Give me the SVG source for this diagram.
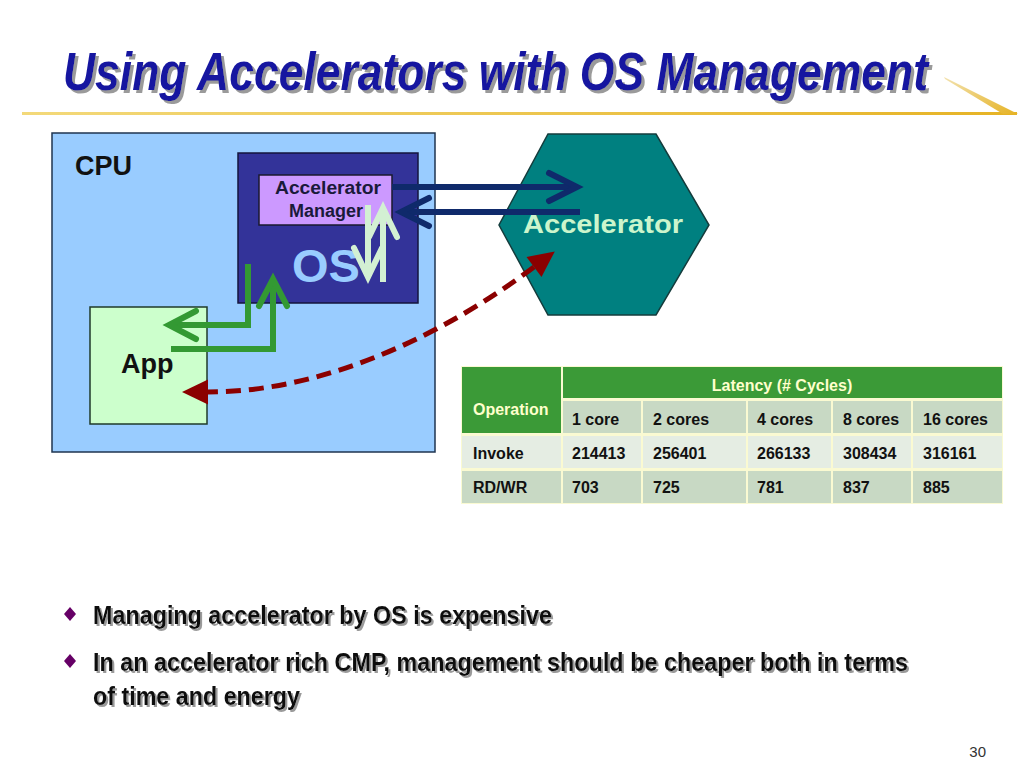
<svg xmlns="http://www.w3.org/2000/svg" width="1024" height="768" viewBox="0 0 1024 768">
<defs>
<style>
.sans{font-family:"Liberation Sans",Arial,sans-serif;}
.b{font-weight:bold;}
.cell{font-family:"Liberation Sans",Arial,sans-serif;font-weight:bold;font-size:16px;fill:#111;}
.hdr{font-family:"Liberation Sans",Arial,sans-serif;font-weight:bold;font-size:16px;fill:#ffffcc;}
.bul{font-family:"Liberation Sans",Arial,sans-serif;font-weight:bold;font-size:26px;fill:#111;filter:url(#shadow2);}
.navy{fill:none;stroke:#0f2a6b;stroke-width:6;}
.grn{fill:none;stroke:#339933;stroke-width:6;}
.pale{fill:none;stroke:#d3f0d3;stroke-width:6;}
</style>
<filter id="shadow3" filterUnits="userSpaceOnUse" x="-20" y="-60" width="1000" height="90">
<feOffset in="SourceAlpha" dx="3" dy="2.5" result="off"/>
<feFlood flood-color="#9a9a9a"/>
<feComposite in2="off" operator="in"/>
<feMerge><feMergeNode/><feMergeNode in="SourceGraphic"/></feMerge>
</filter>
<filter id="shadow2" filterUnits="userSpaceOnUse" x="0" y="580" width="1024" height="150">
<feOffset in="SourceAlpha" dx="2" dy="2" result="off"/>
<feFlood flood-color="#9a9a9a"/>
<feComposite in2="off" operator="in"/>
<feMerge><feMergeNode/><feMergeNode in="SourceGraphic"/></feMerge>
</filter>
<linearGradient id="gold" x1="0" y1="0" x2="1" y2="0">
<stop offset="0" stop-color="#f3d97a"/>
<stop offset="1" stop-color="#e6b325"/>
</linearGradient>
<linearGradient id="gold2" x1="0" y1="0" x2="1" y2="1">
<stop offset="0" stop-color="#f2e2b0"/>
<stop offset="1" stop-color="#e6b325"/>
</linearGradient>
<marker id="navyHead" markerUnits="userSpaceOnUse" markerWidth="40" markerHeight="40" refX="0" refY="0" viewBox="-35 -20 40 40" orient="auto" overflow="visible">
<path d="M -28 -14 L 0 0 L -28 14" fill="none" stroke="#0f2a6b" stroke-width="6" stroke-linecap="round"/>
</marker>
<marker id="grnHead" markerUnits="userSpaceOnUse" markerWidth="40" markerHeight="40" refX="0" refY="0" viewBox="-35 -20 40 40" orient="auto" overflow="visible">
<path d="M -27 -14 L 0 0 L -27 14" fill="none" stroke="#339933" stroke-width="6" stroke-linecap="round"/>
</marker>
<marker id="paleHead" markerUnits="userSpaceOnUse" markerWidth="40" markerHeight="40" refX="0" refY="0" viewBox="-35 -20 40 40" orient="auto" overflow="visible">
<path d="M -29 -14 L 0 0 L -29 14" fill="none" stroke="#d3f0d3" stroke-width="6" stroke-linecap="round"/>
</marker>
<marker id="redTri" markerUnits="userSpaceOnUse" markerWidth="40" markerHeight="40" refX="0" refY="0" viewBox="-5 -20 40 40" orient="auto-start-reverse" overflow="visible">
<path d="M 0 -12.5 L 26 0 L 0 12.5 z" fill="#8b0000" stroke="none"/>
</marker>
</defs>

<rect width="1024" height="768" fill="#ffffff"/>

<g id="title">
<text transform="translate(63,90) scale(1,1.2)" x="0" y="0" class="sans b" font-style="italic" font-size="44" fill="#1414a0" filter="url(#shadow3)" textLength="865" lengthAdjust="spacingAndGlyphs">Using Accelerators with OS Management</text>
<rect x="22" y="112" width="995" height="3" fill="url(#gold)"/>
<polygon points="944,77 1018,114 1003,114 945,79" fill="url(#gold2)"/>
</g>

<g id="cpu">
<rect x="52" y="133" width="383" height="319" fill="#99ccff" stroke="#1f3550" stroke-width="1.5"/>
<text x="75" y="175" class="sans b" font-size="27" fill="#111">CPU</text>
</g>

<g id="os">
<rect x="238" y="153" width="180" height="150" fill="#333399" stroke="#15153d" stroke-width="1.5"/>
<text x="292" y="282" class="sans b" font-size="47" fill="#99ccff">OS</text>
</g>

<g id="accelerator-manager">
<rect x="259" y="175" width="133" height="50" fill="#cc99ff" stroke="#1a1a2e" stroke-width="1.5"/>
<text x="275" y="194" class="sans b" font-size="18" fill="#1a1a3a" textLength="106" lengthAdjust="spacingAndGlyphs">Accelerator</text>
<text x="289" y="217" class="sans b" font-size="18" fill="#1a1a3a">Manager</text>
</g>

<g id="app">
<rect x="90" y="307" width="117" height="117" fill="#ccffcc" stroke="#1f3a2a" stroke-width="1.5"/>
<text x="121" y="373" class="sans b" font-size="27" fill="#111">App</text>
</g>

<g id="accelerator">
<polygon points="548,134 656,134 709,225 656,315 548,315 499,225" fill="#008080" stroke="#143c3c" stroke-width="1.5"/>
<text x="523" y="233" class="sans b" font-size="25" fill="#ccf5cc" textLength="160" lengthAdjust="spacingAndGlyphs">Accelerator</text>
</g>

<g id="connectors">
<path class="navy" d="M 392 187 H 577" marker-end="url(#navyHead)"/>
<path class="navy" d="M 580 212 H 401" marker-end="url(#navyHead)"/>
<path class="pale" d="M 368 205 V 277" marker-end="url(#paleHead)"/>
<path class="pale" d="M 383 282 V 208" marker-end="url(#paleHead)"/>
<path class="grn" d="M 248 264 V 325 H 169" marker-end="url(#grnHead)"/>
<path class="grn" d="M 171 349 H 273 V 279" marker-end="url(#grnHead)"/>
<path d="M 534 267 C 450 330, 330 392, 208 392" fill="none" stroke="#8b0000" stroke-width="5" stroke-dasharray="15 8" marker-start="url(#redTri)" marker-end="url(#redTri)"/>
</g>

<g id="latency-table">
<rect x="461" y="366" width="542" height="138" fill="#fafad2"/>
<rect x="462" y="367" width="99" height="66" fill="#3b9a37"/>
<rect x="563" y="367" width="439" height="31" fill="#3b9a37"/>
<rect x="563" y="401" width="78" height="32" fill="#c8d9c4"/>
<rect x="643" y="401" width="103" height="32" fill="#c8d9c4"/>
<rect x="748" y="401" width="83" height="32" fill="#c8d9c4"/>
<rect x="833" y="401" width="78" height="32" fill="#c8d9c4"/>
<rect x="913" y="401" width="89" height="32" fill="#c8d9c4"/>
<rect x="462" y="436" width="99" height="32" fill="#e5ede3"/>
<rect x="563" y="436" width="78" height="32" fill="#e5ede3"/>
<rect x="643" y="436" width="103" height="32" fill="#e5ede3"/>
<rect x="748" y="436" width="83" height="32" fill="#e5ede3"/>
<rect x="833" y="436" width="78" height="32" fill="#e5ede3"/>
<rect x="913" y="436" width="89" height="32" fill="#e5ede3"/>
<rect x="462" y="471" width="99" height="32" fill="#c8d9c4"/>
<rect x="563" y="471" width="78" height="32" fill="#c8d9c4"/>
<rect x="643" y="471" width="103" height="32" fill="#c8d9c4"/>
<rect x="748" y="471" width="83" height="32" fill="#c8d9c4"/>
<rect x="833" y="471" width="78" height="32" fill="#c8d9c4"/>
<rect x="913" y="471" width="89" height="32" fill="#c8d9c4"/>
<text x="473" y="415" class="hdr">Operation</text>
<text x="782" y="391" class="hdr" text-anchor="middle">Latency (# Cycles)</text>
<text x="572" y="425" class="cell">1 core</text>
<text x="653" y="425" class="cell">2 cores</text>
<text x="757" y="425" class="cell">4 cores</text>
<text x="843" y="425" class="cell">8 cores</text>
<text x="923" y="425" class="cell">16 cores</text>
<text x="473" y="459" class="cell">Invoke</text>
<text x="572" y="459" class="cell">214413</text>
<text x="653" y="459" class="cell">256401</text>
<text x="757" y="459" class="cell">266133</text>
<text x="843" y="459" class="cell">308434</text>
<text x="923" y="459" class="cell">316161</text>
<text x="473" y="493" class="cell">RD/WR</text>
<text x="572" y="493" class="cell">703</text>
<text x="653" y="493" class="cell">725</text>
<text x="757" y="493" class="cell">781</text>
<text x="843" y="493" class="cell">837</text>
<text x="923" y="493" class="cell">885</text>
</g>

<g id="bullets">
<polygon points="70,607 76,614 70,621 64,614" fill="#660066"/>
<polygon points="70,654 76,661 70,668 64,661" fill="#660066"/>
<text x="93" y="624" class="bul" textLength="459" lengthAdjust="spacingAndGlyphs">Managing accelerator by OS is expensive</text>
<text x="93" y="671" class="bul" textLength="815" lengthAdjust="spacingAndGlyphs">In an accelerator rich CMP, management should be cheaper both in terms</text>
<text x="93" y="705" class="bul" textLength="207" lengthAdjust="spacingAndGlyphs">of time and energy</text>
</g>

<text x="986" y="757" class="sans" font-size="15" fill="#333" text-anchor="end">30</text>
</svg>
